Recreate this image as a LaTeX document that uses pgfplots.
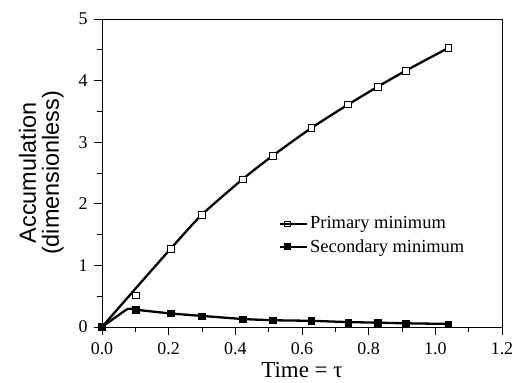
\documentclass[border=0pt]{standalone}
\usepackage{fontspec}
\setmainfont{Liberation Serif}
\setsansfont{Liberation Sans}
\usepackage{pgfplots}
\pgfplotsset{compat=1.18}
\begin{document}
\begin{tikzpicture}[x=1bp,y=1bp]
\begin{axis}[
  at={(0,0)}, anchor=south west,
  scale only axis, width=400bp, height=308bp,
  xmin=0, xmax=1.2, ymin=0, ymax=5,
  xtick={0,0.2,...,1.2}, ytick={0,1,...,5},
  minor x tick num=1, minor y tick num=1,
  tick align=outside, axis line style={line width=0.9pt},
  xtick pos=bottom, ytick pos=left,
  major tick length=8bp, minor tick length=5bp,
  tick style={line width=0.9pt, black},
  xticklabel style={/pgf/number format/.cd, fixed, fixed zerofill, precision=1, /tikz/.cd, yshift=-4bp},
  yticklabel style={xshift=-3bp},
  /pgf/number format/assume math mode=true,
  tick label style={font=\fontsize{18}{20}\selectfont},
  xlabel={Time = τ},
  xlabel style={font=\fontsize{23}{25}\selectfont, yshift=-1bp},
  ylabel={Accumulation\\(dimensionless)},
  ylabel style={font=\sffamily\fontsize{23.5}{23}\selectfont, align=center, yshift=8bp},
  legend style={draw=none, fill=none, font=\fontsize{18.5}{21}\selectfont,
    at={(rel axis cs:0.4425,0.365)}, anchor=north west, row sep=5bp,
    inner sep=0pt},
  legend cell align=left,
  legend image code/.code={\draw[#1, mark=none] (0bp,0bp) -- (14bp,0bp);
    \draw[#1, only marks] plot coordinates {(7bp,0bp)};
    \path (0bp,0bp) -- (27bp,0bp);},
]
% primary curve (line)
\addplot[black, line width=2.3bp, smooth, tension=0.4, forget plot] coordinates {
 (0,0) (0.1,0.62) (0.206,1.27) (0.299,1.82) (0.422,2.40) (0.512,2.78)
 (0.628,3.23) (0.738,3.61) (0.827,3.90) (0.911,4.16) (1.039,4.53)};
% primary markers
\addplot[only marks, mark=square*, mark size=3.2bp, mark options={fill=white, draw=black, line width=0.7pt}, forget plot] coordinates {
 (0,0) (0.101,0.51) (0.206,1.27) (0.299,1.82) (0.422,2.40) (0.512,2.78)
 (0.628,3.23) (0.738,3.61) (0.827,3.90) (0.911,4.16) (1.039,4.53)};
% secondary curve (line)
\addplot[black, line width=2.3bp, smooth, tension=0.3, forget plot] coordinates {
 (0,0) (0.076,0.29) (0.101,0.28) (0.206,0.22) (0.299,0.18) (0.422,0.13) (0.512,0.11)
 (0.628,0.10) (0.738,0.08) (0.827,0.07) (0.911,0.06) (1.039,0.05)};
% secondary markers
\addplot[only marks, mark=square*, mark size=3.2bp, mark options={fill=black, draw=black}, forget plot] coordinates {
 (0,0) (0.101,0.28) (0.206,0.22) (0.299,0.18) (0.422,0.13) (0.512,0.11)
 (0.628,0.10) (0.738,0.07) (0.827,0.07) (0.911,0.06) (1.039,0.05)};
\addlegendimage{black, line width=2bp, mark=square*, mark size=2.6bp, mark options={fill=white, line width=0.6pt}}
\addlegendentry{Primary minimum}
\addlegendimage{black, line width=2bp, mark=square*, mark size=2.6bp, mark options={fill=black}}
\addlegendentry{Secondary minimum}
\end{axis}
\pgfresetboundingbox
\path[use as bounding box] (-102bp,-56bp) rectangle (413bp,327bp);
\end{tikzpicture}
\end{document}
